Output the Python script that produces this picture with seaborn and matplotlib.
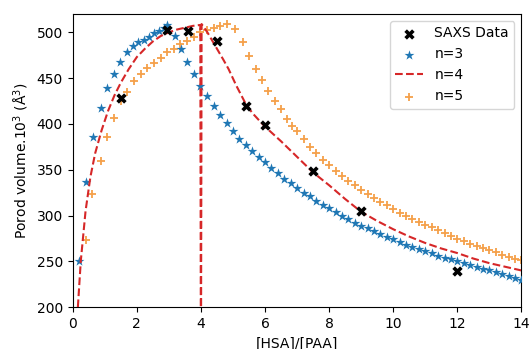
import matplotlib
matplotlib.use("Agg")
import matplotlib.pyplot as plt
import seaborn as sns

# SAXS measurements
saxs_x = [1.5, 2.95, 3.6, 4.5, 5.4, 6.0, 7.5, 9.0, 12.0]
saxs_y = [428, 503, 501, 491, 420, 399, 349, 305, 239]

# model n=3 (stars)
n3_x = [0.2, 0.4, 0.63, 0.87, 1.06, 1.28, 1.48, 1.68, 1.88, 2.05, 2.23, 2.38, 2.54, 2.69, 2.85, 2.95,
        3.18, 3.38, 3.58, 3.78, 3.98, 4.2, 4.4, 4.6, 4.8, 5.0, 5.2, 5.4, 5.6, 5.8, 6.0,
        6.2, 6.4, 6.6, 6.8, 7.0, 7.2, 7.4, 7.6, 7.8, 8.0, 8.2, 8.4, 8.6, 8.8, 9.0,
        9.2, 9.4, 9.6, 9.8, 10.0, 10.2, 10.4, 10.6, 10.8, 11.0, 11.2, 11.4, 11.6, 11.8, 12.0,
        12.2, 12.4, 12.6, 12.8, 13.0, 13.2, 13.4, 13.6, 13.8, 14.0]
n3_y = [250, 337, 386, 417, 439, 455, 468, 478, 485, 489, 492, 495, 499, 501, 505, 508,
        496, 482, 468, 454, 441, 430, 420, 410, 401, 392, 384, 377, 370, 364, 358,
        352, 346, 340, 335, 330, 325, 321, 316, 312, 308, 304, 300, 296, 292, 289,
        286, 283, 280, 277, 274, 271, 268, 266, 263, 261, 259, 256, 254, 252, 250,
        248, 246, 244, 242, 240, 238, 236, 234, 232, 230]

# model n=4 (dashed line, drops to the bottom at 4)
n4_x = [0.16, 0.25, 0.4, 0.55, 0.7, 0.9, 1.1, 1.3, 1.5, 1.75, 2.0, 2.25, 2.5, 2.75, 3.0, 3.25,
        3.5, 3.75, 3.98, 4.0, 4.02, 4.2, 4.45, 4.7, 4.86, 5.1, 5.38, 5.6, 5.89, 6.0, 6.5, 7.0,
        7.5, 8.0, 8.5, 9.0, 9.5, 10.0, 10.5, 11.0, 11.5, 12.0, 12.5, 13.0, 13.5, 14.0]
n4_y = [200, 250, 305, 342, 368, 393, 414, 431, 445, 460, 473, 482, 490, 496, 500, 503,
        505, 507, 508, 100, 509, 500, 485, 470, 460, 442, 423, 412, 401, 397, 381, 364,
        347, 333, 318, 304, 294, 285, 277, 270, 264, 259, 253, 248, 244, 240]

# model n=5 (plus)
n5_x = [0.4, 0.6, 0.87, 1.06, 1.3, 1.51, 1.69, 1.92, 2.13, 2.33, 2.54, 2.75, 2.95, 3.16, 3.36,
        3.57, 3.78, 3.98, 4.19, 4.4, 4.6, 4.81, 5.07, 5.3, 5.5, 5.71, 5.92, 6.1, 6.3, 6.49, 6.67,
        6.85, 7.0, 7.2, 7.4, 7.6, 7.8, 8.0, 8.2, 8.4, 8.6, 8.8, 9.0, 9.2, 9.4, 9.6, 9.8, 10.0,
        10.2, 10.4, 10.6, 10.8, 11.0, 11.2, 11.4, 11.6, 11.8, 12.0, 12.2, 12.4, 12.6, 12.8,
        13.0, 13.2, 13.4, 13.6, 13.8, 14.0]
n5_y = [273, 324, 359, 386, 406, 425, 435, 447, 454, 461, 466, 472, 478, 482, 487,
        491, 495, 500, 502, 505, 507, 509, 504, 489, 474, 460, 448, 436, 425, 416, 405,
        398, 392, 383, 375, 368, 361, 355, 349, 343, 338, 333, 328, 323, 319, 315, 311, 307,
        303, 299, 296, 293, 290, 287, 284, 281, 278, 274, 272, 269, 267, 264,
        262, 260, 257, 255, 253, 251]

fig, ax = plt.subplots(figsize=(5.31, 3.49), dpi=100)
fig.subplots_adjust(left=0.137, right=0.982, top=0.96, bottom=0.12)

sns.scatterplot(x=saxs_x, y=saxs_y, marker="X", s=55, color="black", linewidth=0,
                label="SAXS Data", zorder=5, ax=ax)
sns.scatterplot(x=n3_x, y=n3_y, marker="*", s=55, color="#1f77b4", linewidth=0,
                label="n=3", zorder=3, ax=ax)
sns.lineplot(x=n4_x, y=n4_y, sort=False, estimator=None, color="#d62728",
             linestyle="--", linewidth=1.5, label="n=4", zorder=4, ax=ax)
sns.scatterplot(x=n5_x, y=n5_y, marker="+", s=40, color="#f5a04a", linewidth=1.3,
                label="n=5", zorder=2, ax=ax)

ax.set_xlim(0, 14)
ax.set_ylim(200, 520)
ax.set_xticks([0, 2, 4, 6, 8, 10, 12, 14])
ax.set_yticks([200, 250, 300, 350, 400, 450, 500])
ax.tick_params(labelsize=10)
ax.set_xlabel("[HSA]/[PAA]", fontsize=10)
ax.set_ylabel("Porod volume.10$^3$ (Å$^3$)", fontsize=10)
ax.legend(loc="upper right", fontsize=10)

fig.savefig("out.png", dpi=100)
